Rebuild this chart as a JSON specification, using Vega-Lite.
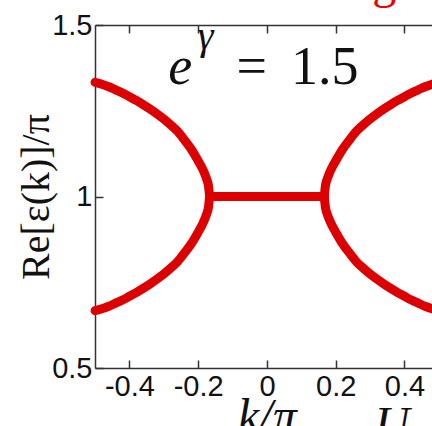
{
  "$schema": "https://vega.github.io/schema/vega-lite/v6.json",
  "width": 337,
  "height": 343,
  "autosize": {"type": "none"},
  "padding": {"left": 95, "top": 25, "right": 0, "bottom": 58},
  "background": "white",
  "config": {
    "view": {"stroke": null},
    "axis": {
      "grid": false,
      "domainColor": "#333333",
      "domainWidth": 1.5,
      "tickColor": "#333333",
      "tickWidth": 1.5,
      "tickSize": -8,
      "labelFont": "Liberation Sans",
      "labelFontSize": 29,
      "labelColor": "#111111",
      "titleColor": "#111111",
      "titleFont": "Liberation Serif",
      "titleFontWeight": "normal"
    }
  },
  "datasets": {
    "bands": [
      {"s": "ul", "k": -0.5, "v": 1.333}, {"s": "ul", "k": -0.48, "v": 1.3275}, {"s": "ul", "k": -0.46, "v": 1.32},
      {"s": "ul", "k": -0.44, "v": 1.311}, {"s": "ul", "k": -0.42, "v": 1.302}, {"s": "ul", "k": -0.4, "v": 1.291},
      {"s": "ul", "k": -0.38, "v": 1.28}, {"s": "ul", "k": -0.36, "v": 1.268}, {"s": "ul", "k": -0.34, "v": 1.255},
      {"s": "ul", "k": -0.32, "v": 1.241}, {"s": "ul", "k": -0.3, "v": 1.226}, {"s": "ul", "k": -0.28, "v": 1.209},
      {"s": "ul", "k": -0.26, "v": 1.19}, {"s": "ul", "k": -0.24, "v": 1.165}, {"s": "ul", "k": -0.22, "v": 1.138},
      {"s": "ul", "k": -0.2, "v": 1.104}, {"s": "ul", "k": -0.19, "v": 1.086}, {"s": "ul", "k": -0.18, "v": 1.064},
      {"s": "ul", "k": -0.175, "v": 1.05}, {"s": "ul", "k": -0.17, "v": 1.031}, {"s": "ul", "k": -0.1667, "v": 1.0},
      {"s": "ll", "k": -0.5, "v": 0.667}, {"s": "ll", "k": -0.48, "v": 0.6725}, {"s": "ll", "k": -0.46, "v": 0.68},
      {"s": "ll", "k": -0.44, "v": 0.689}, {"s": "ll", "k": -0.42, "v": 0.698}, {"s": "ll", "k": -0.4, "v": 0.709},
      {"s": "ll", "k": -0.38, "v": 0.72}, {"s": "ll", "k": -0.36, "v": 0.732}, {"s": "ll", "k": -0.34, "v": 0.745},
      {"s": "ll", "k": -0.32, "v": 0.759}, {"s": "ll", "k": -0.3, "v": 0.774}, {"s": "ll", "k": -0.28, "v": 0.791},
      {"s": "ll", "k": -0.26, "v": 0.81}, {"s": "ll", "k": -0.24, "v": 0.835}, {"s": "ll", "k": -0.22, "v": 0.862},
      {"s": "ll", "k": -0.2, "v": 0.896}, {"s": "ll", "k": -0.19, "v": 0.914}, {"s": "ll", "k": -0.18, "v": 0.936},
      {"s": "ll", "k": -0.175, "v": 0.95}, {"s": "ll", "k": -0.17, "v": 0.969}, {"s": "ll", "k": -0.1667, "v": 1.0},
      {"s": "mid", "k": -0.1667, "v": 1.0}, {"s": "mid", "k": 0.1667, "v": 1.0},
      {"s": "ur", "k": 0.5, "v": 1.333}, {"s": "ur", "k": 0.48, "v": 1.3275}, {"s": "ur", "k": 0.46, "v": 1.32},
      {"s": "ur", "k": 0.44, "v": 1.311}, {"s": "ur", "k": 0.42, "v": 1.302}, {"s": "ur", "k": 0.4, "v": 1.291},
      {"s": "ur", "k": 0.38, "v": 1.28}, {"s": "ur", "k": 0.36, "v": 1.268}, {"s": "ur", "k": 0.34, "v": 1.255},
      {"s": "ur", "k": 0.32, "v": 1.241}, {"s": "ur", "k": 0.3, "v": 1.226}, {"s": "ur", "k": 0.28, "v": 1.209},
      {"s": "ur", "k": 0.26, "v": 1.19}, {"s": "ur", "k": 0.24, "v": 1.165}, {"s": "ur", "k": 0.22, "v": 1.138},
      {"s": "ur", "k": 0.2, "v": 1.104}, {"s": "ur", "k": 0.19, "v": 1.086}, {"s": "ur", "k": 0.18, "v": 1.064},
      {"s": "ur", "k": 0.175, "v": 1.05}, {"s": "ur", "k": 0.17, "v": 1.031}, {"s": "ur", "k": 0.1667, "v": 1.0},
      {"s": "lr", "k": 0.5, "v": 0.667}, {"s": "lr", "k": 0.48, "v": 0.6725}, {"s": "lr", "k": 0.46, "v": 0.68},
      {"s": "lr", "k": 0.44, "v": 0.689}, {"s": "lr", "k": 0.42, "v": 0.698}, {"s": "lr", "k": 0.4, "v": 0.709},
      {"s": "lr", "k": 0.38, "v": 0.72}, {"s": "lr", "k": 0.36, "v": 0.732}, {"s": "lr", "k": 0.34, "v": 0.745},
      {"s": "lr", "k": 0.32, "v": 0.759}, {"s": "lr", "k": 0.3, "v": 0.774}, {"s": "lr", "k": 0.28, "v": 0.791},
      {"s": "lr", "k": 0.26, "v": 0.81}, {"s": "lr", "k": 0.24, "v": 0.835}, {"s": "lr", "k": 0.22, "v": 0.862},
      {"s": "lr", "k": 0.2, "v": 0.896}, {"s": "lr", "k": 0.19, "v": 0.914}, {"s": "lr", "k": 0.18, "v": 0.936},
      {"s": "lr", "k": 0.175, "v": 0.95}, {"s": "lr", "k": 0.17, "v": 0.969}, {"s": "lr", "k": 0.1667, "v": 1.0}
    ],
    "base": [{"t": "e", "k": -0.2525, "v": 1.328}],
    "sup": [{"t": "γ", "k": -0.178, "v": 1.43}],
    "rest": [{"t": "=", "k": -0.0445, "v": 1.328}, {"t": "1.5", "k": 0.1679, "v": 1.328}],
    "uLabel": [{"t": "U", "k": 0.364, "v": 0.29}],
    "gLabel": [{"t": "g", "k": 0.341, "v": 1.579}]
  },
  "resolve": {"axis": {"x": "independent"}},
  "layer": [
    {
      "data": {"name": "bands"},
      "mark": {"type": "line", "color": "#dd0000", "strokeWidth": 9, "strokeCap": "round", "strokeJoin": "round", "interpolate": "monotone", "clip": false},
      "encoding": {
        "x": {
          "field": "k", "type": "quantitative",
          "scale": {"domain": [-0.5, 0.48], "nice": false, "zero": false},
          "axis": {
            "orient": "bottom",
            "values": [-0.4, -0.2, 0, 0.2, 0.4],
            "labelExpr": "'' + datum.value",
            "labelPadding": 12,
            "title": "k/π",
            "titleFontStyle": "italic",
            "titleFontSize": 48,
            "titleX": 171.9,
            "titleY": 63,
            "titleAlign": "center",
            "titleBaseline": "alphabetic"
          }
        },
        "y": {
          "field": "v", "type": "quantitative",
          "scale": {"domain": [0.5, 1.5], "nice": false, "zero": false},
          "axis": {
            "values": [0.5, 1, 1.5],
            "labelExpr": "'' + datum.value",
            "labelPadding": 11,
            "title": "Re[ε(k)]/π",
            "titleFontSize": 40,
            "titleAngle": -90,
            "titleX": -47,
            "titleY": 171.5,
            "titleAlign": "center",
            "titleBaseline": "alphabetic"
          }
        },
        "detail": {"field": "s", "type": "nominal"}
      }
    },
    {
      "data": {"name": "base"},
      "mark": {"type": "text", "font": "Liberation Serif", "fontStyle": "italic", "fontSize": 54, "baseline": "alphabetic", "align": "center", "color": "#111111"},
      "encoding": {
        "x": {
          "field": "k", "type": "quantitative",
          "axis": {"orient": "top", "values": [-0.4, -0.2, 0, 0.2, 0.4], "labels": false, "title": null}
        },
        "y": {"field": "v", "type": "quantitative"},
        "text": {"field": "t"}
      }
    },
    {
      "data": {"name": "sup"},
      "mark": {"type": "text", "font": "Liberation Serif", "fontStyle": "italic", "fontSize": 40, "baseline": "alphabetic", "align": "center", "color": "#111111"},
      "encoding": {
        "x": {"field": "k", "type": "quantitative", "axis": null},
        "y": {"field": "v", "type": "quantitative"},
        "text": {"field": "t"}
      }
    },
    {
      "data": {"name": "rest"},
      "mark": {"type": "text", "font": "Liberation Serif", "fontSize": 54, "baseline": "alphabetic", "align": "center", "color": "#111111"},
      "encoding": {
        "x": {"field": "k", "type": "quantitative", "axis": null},
        "y": {"field": "v", "type": "quantitative"},
        "text": {"field": "t"}
      }
    },
    {
      "data": {"name": "uLabel"},
      "mark": {"type": "text", "font": "Liberation Serif", "fontStyle": "italic", "fontSize": 48, "baseline": "alphabetic", "align": "center", "color": "#111111", "clip": false},
      "encoding": {
        "x": {"field": "k", "type": "quantitative", "axis": null},
        "y": {"field": "v", "type": "quantitative"},
        "text": {"field": "t"}
      }
    },
    {
      "data": {"name": "gLabel"},
      "mark": {"type": "text", "font": "Liberation Serif", "fontSize": 48, "baseline": "alphabetic", "align": "center", "color": "#ee0000", "clip": false},
      "encoding": {
        "x": {"field": "k", "type": "quantitative", "axis": null},
        "y": {"field": "v", "type": "quantitative"},
        "text": {"field": "t"}
      }
    }
  ]
}
